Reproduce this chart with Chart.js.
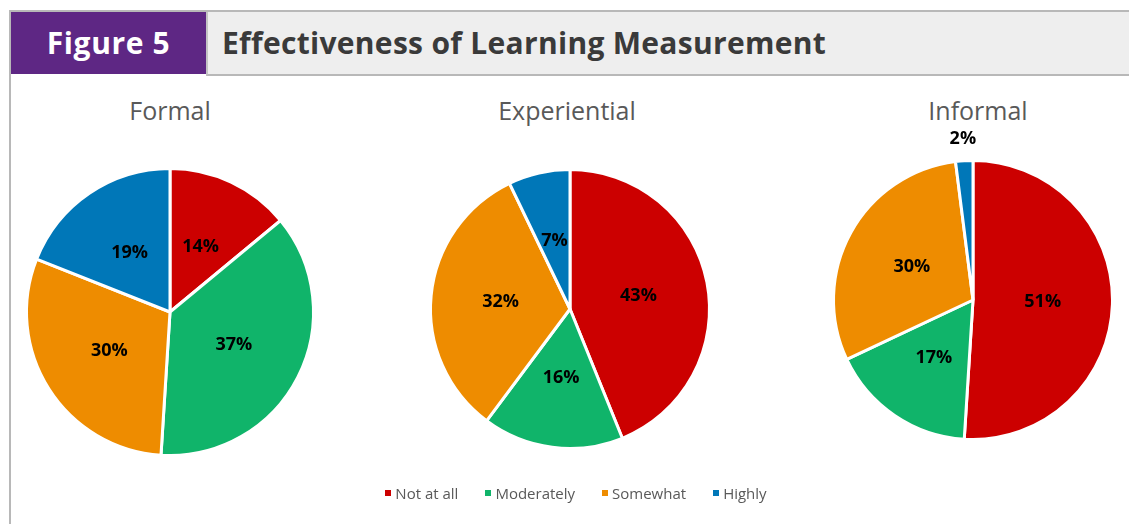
<!DOCTYPE html>
<html>
<head>
<meta charset="utf-8">
<script src="https://cdn.jsdelivr.net/npm/chart.js@4"></script>
<style>
  body { margin: 0; width: 1129px; height: 524px; background: #fff; position: relative; overflow: hidden; font-family: "Open Sans", sans-serif; }
  #topline { position: absolute; left: 9px; top: 10px; width: 1120px; height: 2px; background: #b8b8b8; }
  #leftline { position: absolute; left: 9px; top: 10px; width: 2px; height: 514px; background: #b8b8b8; }
  #figbox { position: absolute; left: 11px; top: 12px; width: 195px; height: 62px; background: #5e2784; color: #fff; font-weight: bold; font-size: 30px; letter-spacing: 0.6px; line-height: 62px; text-align: center; }
  #headbar { position: absolute; left: 206px; top: 12px; width: 923px; height: 62px; background: #eeeeee; border-left: 2px solid #c4c4c4; border-bottom: 2px solid #b8b8b8; }
  #headbar span { position: absolute; left: 14px; top: 0; line-height: 62px; font-weight: bold; font-size: 30px; letter-spacing: 0.3px; color: #3a3a3a; white-space: nowrap; }
  .ptitle { position: absolute; top: 93px; font-size: 25px; color: #595959; transform: translateX(-50%); white-space: nowrap; }
  canvas { position: absolute; }
  #legend { position: absolute; left: 0; width: 1129px; top: 483px; display: flex; justify-content: center; padding-left: 50px; box-sizing: border-box; }
  .li { display: flex; align-items: center; font-size: 15px; color: #595959; margin-right: 27px; }
  .li i { display: inline-block; width: 6px; height: 6px; margin-right: 4px; }
</style>
</head>
<body>
<div id="topline"></div>
<div id="leftline"></div>
<div id="headbar"><span>Effectiveness of Learning Measurement</span></div>
<div id="figbox">Figure 5</div>

<div class="ptitle" style="left:170px">Formal</div>
<div class="ptitle" style="left:567px">Experiential</div>
<div class="ptitle" style="left:978px">Informal</div>

<canvas id="c1" width="390" height="390" style="left:-25px;top:117px"></canvas>
<canvas id="c2" width="382" height="382" style="left:379px;top:118px"></canvas>
<canvas id="c3" width="382" height="382" style="left:782px;top:109px"></canvas>

<div id="legend"></div>

<script>
const categories = ["Not at all", "Moderately", "Somewhat", "Highly"];
const colors = ["#cc0000", "#10b46a", "#ee8c00", "#0077b8"];
const formal = [14, 37, 30, 19];
const experiential = [43, 16, 32, 7];
const informal = [51, 17, 30, 2];

// percentage labels drawn on the slices (small ones go outside)
const sliceLabels = {
  id: "sliceLabels",
  afterDatasetsDraw(chart) {
    const ctx = chart.ctx;
    const meta = chart.getDatasetMeta(0);
    const values = chart.data.datasets[0].data;
    ctx.save();
    ctx.font = "bold 18px 'Open Sans', sans-serif";
    ctx.fillStyle = "#000";
    ctx.textAlign = "center";
    ctx.textBaseline = "middle";
    meta.data.forEach((arc, i) => {
      const v = values[i];
      const mid = (arc.startAngle + arc.endAngle) / 2;
      let d = (arc.innerRadius + arc.outerRadius) / 2;
      if (v < 5) d = arc.outerRadius + 22;
      const x = arc.x + Math.cos(mid) * d;
      const y = arc.y + Math.sin(mid) * d;
      ctx.fillText(v + "%", x, y);
    });
    ctx.restore();
  }
};

function makePie(id, values) {
  new Chart(document.getElementById(id), {
    type: "pie",
    data: {
      labels: categories,
      datasets: [{
        data: values,
        backgroundColor: colors,
        borderColor: "#ffffff",
        borderWidth: 3
      }]
    },
    options: {
      responsive: false,
      animation: false,
      layout: { padding: 50 },
      plugins: {
        legend: { display: false },
        tooltip: { enabled: false }
      }
    },
    plugins: [sliceLabels]
  });
}

makePie("c1", formal);
makePie("c2", experiential);
makePie("c3", informal);

const legend = document.getElementById("legend");
categories.forEach((name, i) => {
  const el = document.createElement("div");
  el.className = "li";
  el.innerHTML = `<i style="background:${colors[i]}"></i>${name}`;
  legend.appendChild(el);
});
</script>
</body>
</html>
